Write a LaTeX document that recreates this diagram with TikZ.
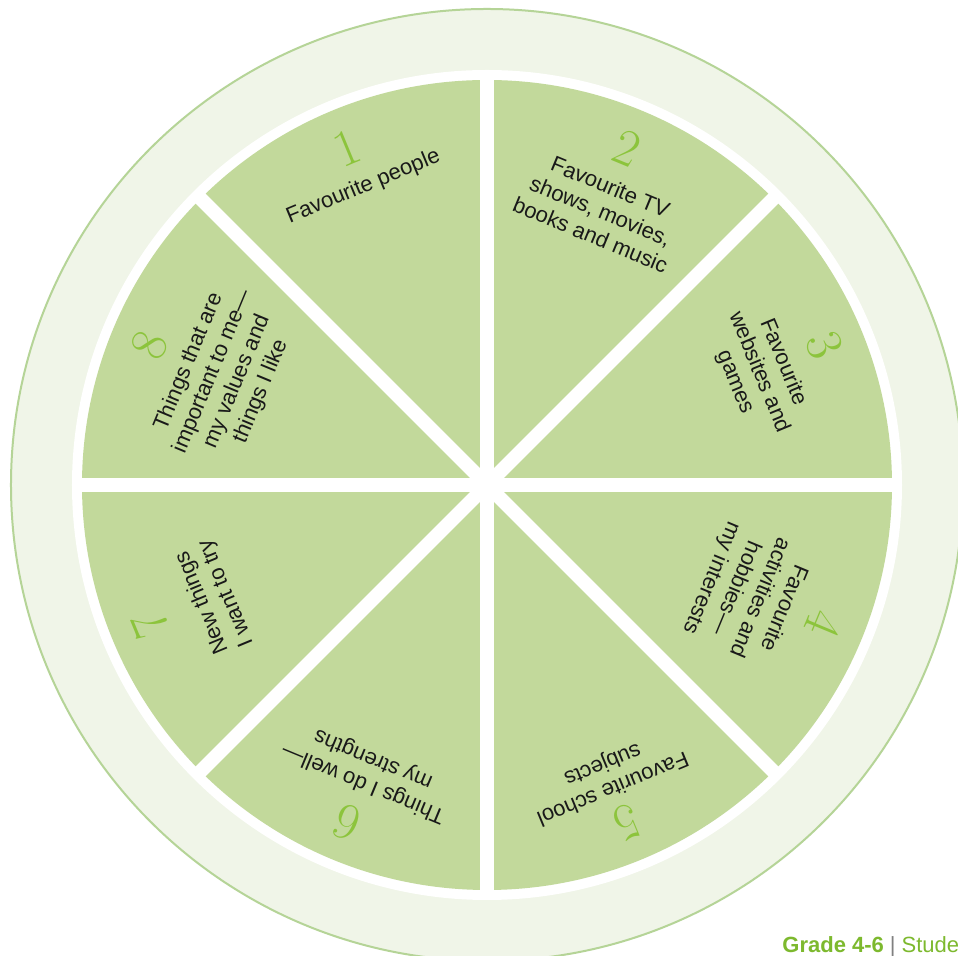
\documentclass[tikz,border=0pt]{standalone}
\usepackage{fontspec}
\setsansfont{Liberation Sans}
\usepackage{xcolor}
\definecolor{pie}{HTML}{C2D99B}
\definecolor{rim}{HTML}{F0F5E8}
\definecolor{rimline}{HTML}{B5D497}
\definecolor{numgreen}{HTML}{8CC43C}
\definecolor{ggreen}{HTML}{7DB92E}
\usetikzlibrary{positioning}

\begin{document}
\begin{tikzpicture}[x=.5pt,y=.5pt,
    every node/.style={font=\sffamily\fontsize{11}{13}\selectfont, align=center, text=black!90},
    numlabel/.style={font=\rmfamily\fontsize{26}{26}\selectfont, text=numgreen, inner sep=0pt},
    spoke/.style={white, line width=7pt}]
	\clip (-487,-471) rectangle (471,485);
	\fill[white] (-487,-471) rectangle (471,485);
	% wheel
	\filldraw[fill=rim, draw=rimline, line width=1pt] (0,0) circle (476);
	\fill[white] (0,0) circle (415);
	\fill[pie] (0,0) circle (405);
	\foreach \a in {0,45,...,315}
		\draw[spoke] (0,0) -- (\a:412);
	\fill[white] (0,0) circle (16);
	% numbers
	\node[numlabel, rotate=22.5] (n1) at (112.5:365) {1};
	\node[numlabel, rotate=-22.5] (n2) at (67.5:365) {2};
	\node[numlabel, rotate=-67.5] (n3) at (22.5:365) {3};
	\node[numlabel, rotate=-112.5] (n4) at (-22.5:365) {4};
	\node[numlabel, rotate=-157.5] (n5) at (-67.5:365) {5};
	\node[numlabel, rotate=-202.5] (n6) at (-112.5:365) {6};
	\node[numlabel, rotate=-247.5] (n7) at (-157.5:365) {7};
	\node[numlabel, rotate=67.5] (n8) at (157.5:365) {8};
	% labels
	\node[anchor=north, rotate=22.5] (t1) at (112.5:340) {Favourite people};
	\node[anchor=north, rotate=-22.5] (t2) at (67.5:338) {Favourite TV\\shows, movies,\\books and music};
	\node[anchor=north, rotate=-67.5] (t3) at (22.5:338) {Favourite\\websites and\\games};
	\node[anchor=north, rotate=-112.5] (t4) at (-22.5:338) {Favourite\\activities and\\hobbies—\\my interests};
	\node[anchor=north, rotate=-157.5] (t5) at (-67.5:345) {Favourite school\\subjects};
	\node[anchor=north, rotate=-202.5] (t6) at (-112.5:340) {Things I do well—\\my strengths};
	\node[anchor=north, rotate=-247.5] (t7) at (-157.5:325) {New things\\I want to try};
	\node[anchor=north, rotate=67.5] (t8) at (157.5:340) {Things that are\\important to me—\\my values and\\things I like};
	% footer
	\node[anchor=base west, inner sep=0pt, font=\sffamily\fontsize{11}{13}\selectfont] (g) at (295,-468)
		{{\color{ggreen}\bfseries Grade 4-6}\hspace{3pt}{\color{black!50}|}\hspace{3pt}{\color{ggreen}Stude}};
\end{tikzpicture}
\end{document}
